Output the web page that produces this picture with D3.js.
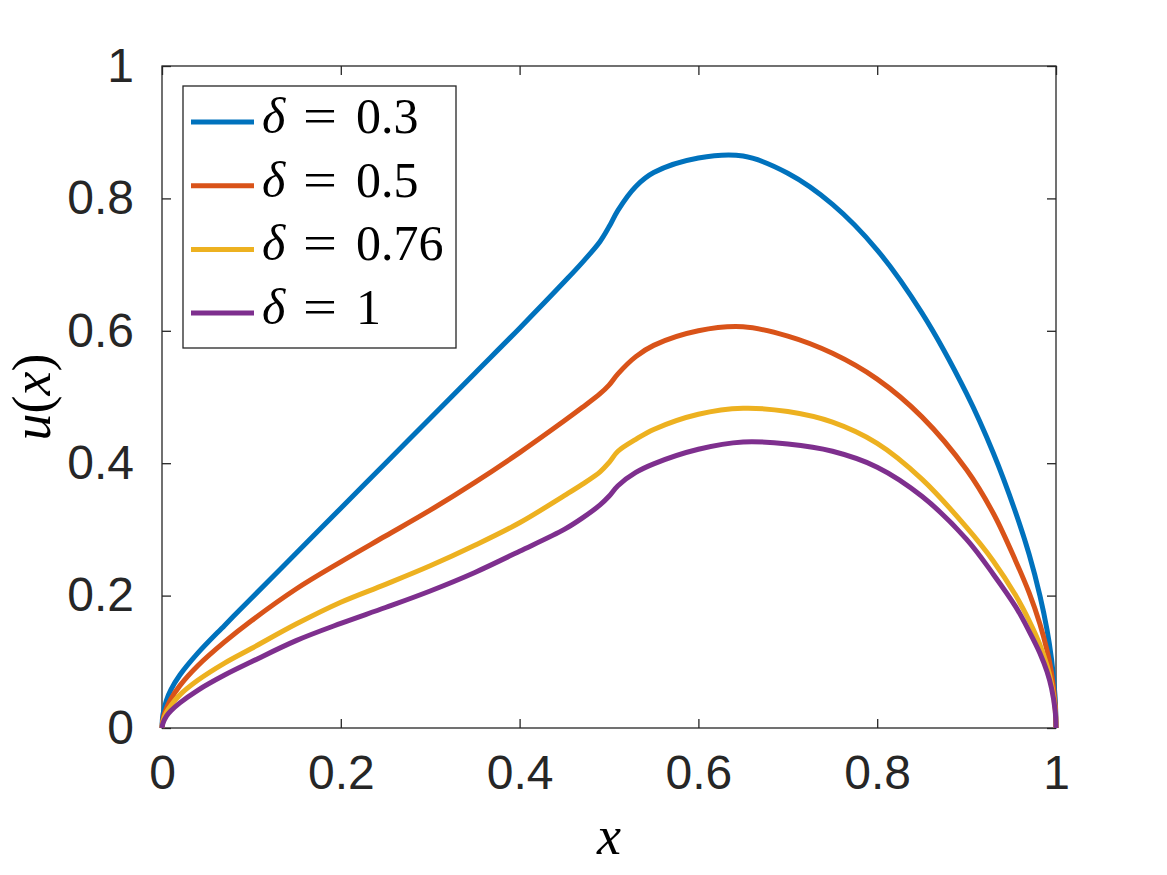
<!DOCTYPE html>
<html>
<head>
<meta charset="utf-8">
<script src="https://cdn.jsdelivr.net/npm/d3@7"></script>
<style>
  body { margin: 0; background: #fff; }
</style>
</head>
<body>
<div class="chart"></div>
<script>
// x grid shared by every curve
var xValues = [0, 0.001, 0.005, 0.01, 0.02, 0.04, 0.07, 0.1, 0.15, 0.2, 0.25, 0.3, 0.35, 0.4, 0.45, 0.47, 0.49, 0.5,
  0.51, 0.53, 0.55, 0.6, 0.65, 0.7, 0.75, 0.8, 0.85, 0.9, 0.93, 0.955, 0.97, 0.982, 0.99, 0.995, 0.999, 1];

var delta03 = [0, 0.02, 0.042, 0.058, 0.08, 0.113, 0.155, 0.196, 0.264, 0.332, 0.4, 0.468, 0.536, 0.604, 0.674, 0.703, 0.735, 0.757,
  0.782, 0.818, 0.839, 0.861, 0.864, 0.838, 0.791, 0.722, 0.627, 0.505, 0.415, 0.325, 0.262, 0.2, 0.148, 0.104, 0.047, 0];
var delta05 = [0, 0.013, 0.03, 0.044, 0.064, 0.094, 0.13, 0.162, 0.21, 0.251, 0.29, 0.329, 0.371, 0.416, 0.464, 0.484, 0.505, 0.518,
  0.535, 0.561, 0.578, 0.6, 0.606, 0.592, 0.566, 0.527, 0.47, 0.39, 0.324, 0.252, 0.204, 0.157, 0.117, 0.083, 0.037, 0];
var delta076 = [0, 0.01, 0.024, 0.034, 0.05, 0.072, 0.098, 0.12, 0.157, 0.19, 0.217, 0.245, 0.276, 0.31, 0.351, 0.368, 0.387, 0.401,
  0.418, 0.436, 0.451, 0.474, 0.483, 0.478, 0.462, 0.43, 0.376, 0.303, 0.252, 0.2, 0.162, 0.126, 0.094, 0.067, 0.03, 0];
var delta1 = [0, 0.007, 0.018, 0.026, 0.038, 0.057, 0.08, 0.1, 0.132, 0.158, 0.182, 0.207, 0.235, 0.267, 0.3, 0.317, 0.337, 0.35,
  0.366, 0.386, 0.399, 0.421, 0.432, 0.429, 0.418, 0.394, 0.35, 0.285, 0.232, 0.183, 0.146, 0.113, 0.085, 0.06, 0.027, 0];

var seriesLabels = ["0.3", "0.5", "0.76", "1"];
var seriesValues = [delta03, delta05, delta076, delta1];
var seriesColors = ["#0072BD", "#D95319", "#EDB120", "#7E2F8E"];

var xTicks = [0, 0.2, 0.4, 0.6, 0.8, 1];
var yTicks = [0, 0.2, 0.4, 0.6, 0.8, 1];

var margin = {top: 66, right: 111, bottom: 147, left: 162},
    width = 1167 - margin.left - margin.right,
    height = 875 - margin.top - margin.bottom;

var svg = d3.select(".chart")
  .append("svg")
    .attr("width", 1167)
    .attr("height", 875)
    .style("display", "block")
  .append("g")
    .attr("transform", "translate(" + margin.left + "," + margin.top + ")");

var x = d3.scaleLinear().domain([0, 1]).range([0, width]);
var y = d3.scaleLinear().domain([0, 1]).range([height, 0]);

var axisColor = "#262626";
var tickFont = '"Liberation Sans", Arial, sans-serif';
var mathFont = '"Liberation Serif", "Times New Roman", serif';

// frame
svg.append("rect")
  .attr("width", width)
  .attr("height", height)
  .attr("fill", "none")
  .attr("stroke", axisColor)
  .attr("stroke-width", 1.3);

// axes with inward ticks on all four sides
function styleAxis(g) {
  g.select(".domain").remove();
  g.selectAll(".tick line").attr("stroke", axisColor).attr("stroke-width", 1.3);
  g.selectAll("text")
    .attr("fill", axisColor)
    .style("font-family", tickFont)
    .style("font-size", "48px");
}

var gX = svg.append("g")
  .attr("transform", "translate(0," + height + ")")
  .call(d3.axisBottom(x).tickValues(xTicks).tickSizeInner(-9).tickSizeOuter(0).tickPadding(27)
    .tickFormat(d3.format("~g")));
styleAxis(gX);

svg.append("g")
  .call(d3.axisTop(x).tickValues(xTicks).tickSizeInner(-9).tickSizeOuter(0).tickFormat(""))
  .call(styleAxis);

var gY = svg.append("g")
  .call(d3.axisLeft(y).tickValues(yTicks).tickSizeInner(-9).tickSizeOuter(0).tickPadding(28)
    .tickFormat(d3.format("~g")));
styleAxis(gY);

svg.append("g")
  .attr("transform", "translate(" + width + ",0)")
  .call(d3.axisRight(y).tickValues(yTicks).tickSizeInner(-9).tickSizeOuter(0).tickFormat(""))
  .call(styleAxis);

// curves
var line = d3.line()
  .x(function(d) { return x(d[0]); })
  .y(function(d) { return y(d[1]); })
  .curve(d3.curveCatmullRom.alpha(0.5));

seriesValues.forEach(function(vals, i) {
  svg.append("path")
    .datum(xValues.map(function(xv, j) { return [xv, vals[j]]; }))
    .attr("fill", "none")
    .attr("stroke", seriesColors[i])
    .attr("stroke-width", 5)
    .attr("stroke-linejoin", "round")
    .attr("d", line);
});

// axis labels
svg.append("text")
  .attr("x", width / 2)
  .attr("y", height + 126)
  .attr("text-anchor", "middle")
  .style("font-family", mathFont)
  .style("font-style", "italic")
  .style("font-size", "54px")
  .text("x");

var yLab = svg.append("text")
  .attr("transform", "translate(-112," + (height / 2) + ") rotate(-90)")
  .attr("text-anchor", "middle")
  .style("font-family", mathFont)
  .style("font-size", "54px");
yLab.append("tspan").style("font-style", "italic").text("u");
yLab.append("tspan").text("(");
yLab.append("tspan").style("font-style", "italic").text("x");
yLab.append("tspan").text(")");

// legend
var legend = svg.append("g").attr("transform", "translate(21,20)");
legend.append("rect")
  .attr("width", 273)
  .attr("height", 262)
  .attr("fill", "#fff")
  .attr("stroke", axisColor)
  .attr("stroke-width", 1.3);

seriesLabels.forEach(function(lab, i) {
  var cy = 36 + i * 63.7;
  legend.append("line")
    .attr("x1", 8).attr("x2", 71)
    .attr("y1", cy).attr("y2", cy)
    .attr("stroke", seriesColors[i])
    .attr("stroke-width", 5);
  var t = legend.append("text")
    .attr("y", cy + 11)
    .style("font-family", mathFont)
    .style("font-size", "50px")
    .attr("fill", "#000");
  t.append("tspan").attr("x", 79).style("font-style", "italic").text("δ");
  t.append("tspan").attr("x", 120)
    .attr("textLength", 34).attr("lengthAdjust", "spacingAndGlyphs").text("=");
  t.append("tspan").attr("x", 173).text(lab);
});
</script>
</body>
</html>
